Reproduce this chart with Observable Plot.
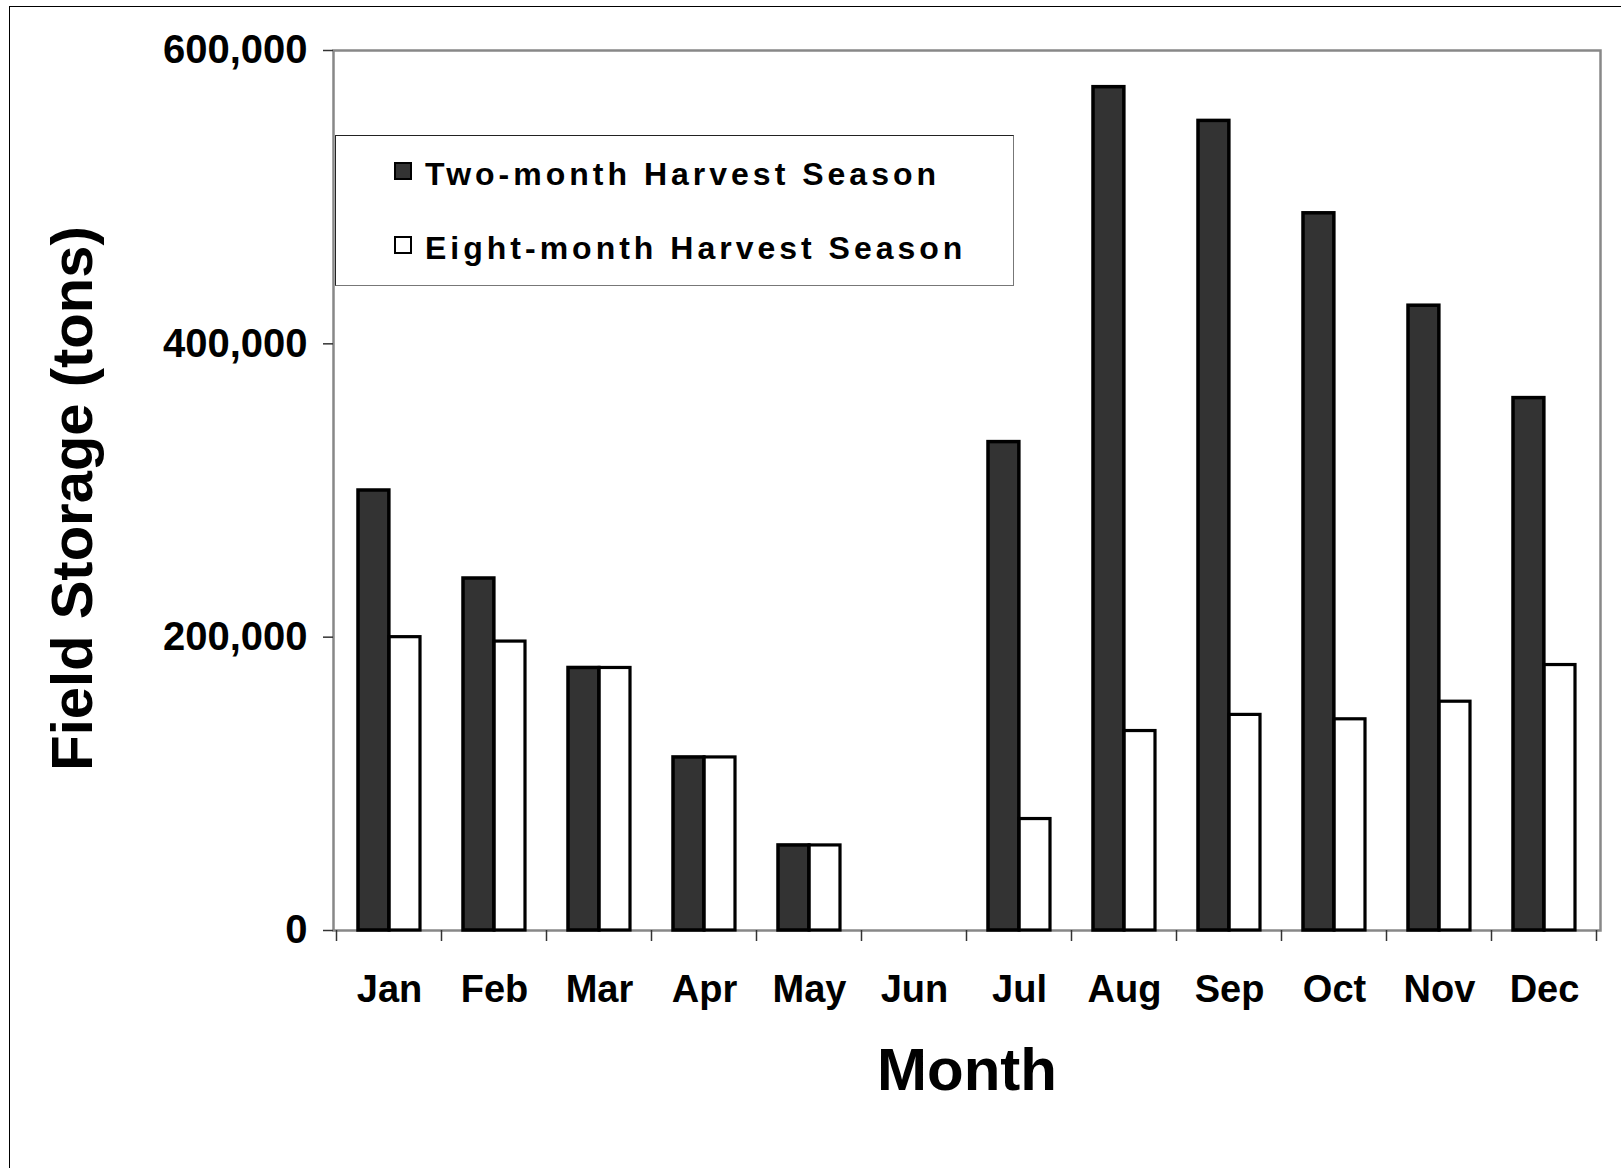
<!DOCTYPE html>
<html>
<head>
<meta charset="utf-8">
<script src="https://cdn.jsdelivr.net/npm/d3@7"></script>
<script src="https://cdn.jsdelivr.net/npm/@observablehq/plot@0.6"></script>
<style>
  html, body { margin: 0; padding: 0; background: #fff; overflow: hidden; }
  #wrap { position: relative; width: 1621px; height: 1168px; font-family: "Liberation Sans", Arial, sans-serif; }
  #border { position: absolute; left: 9px; top: 6px; width: 1700px; height: 1300px; border: 1.5px solid #000; pointer-events: none; }
  #legend { position: absolute; left: 335px; top: 135px; width: 679px; height: 151px; box-sizing: border-box;
            background: #fff; border: 1.5px solid #222; border-right-color: #777; border-bottom-color: #777; }
  .item { position: absolute; left: 0; }
  .sw { position: absolute; width: 14px; height: 14px; border: 2px solid #000; }
  .lab { position: absolute; white-space: nowrap; font-size: 32px; font-weight: bold; letter-spacing: 4px; line-height: 32px; color: #000; }
</style>
</head>
<body>
<div id="wrap"><div id="chart"></div><div id="legend"></div><div id="border"></div></div>
<script>
// ---- data ----
const months = ["Jan","Feb","Mar","Apr","May","Jun","Jul","Aug","Sep","Oct","Nov","Dec"];
const seriesNames = ["Two-month Harvest Season", "Eight-month Harvest Season"];
const twoMonth   = [300000, 240000, 179000, 118000, 58000, 0, 333000, 575000, 552000, 489000, 426000, 363000];
const eightMonth = [200000, 197000, 179000, 118000, 58000, 0, 76000, 136000, 147000, 144000, 156000, 181000];
const seriesColors = ["#333333", "#ffffff"];
const yTicks = [0, 200000, 400000, 600000];
const yLabel = "Field Storage (tons)";
const xLabel = "Month";

const rows = [];
months.forEach((m, i) => {
  rows.push({month: m, series: seriesNames[0], value: twoMonth[i]});
  rows.push({month: m, series: seriesNames[1], value: eightMonth[i]});
});

// ---- layout ----
const W = 1621, H = 1168, mL = 333, mR = 21, mT = 50, mB = 238;
const padInner = 0.41, padOuter = 0.205;
const bw = d3.scaleBand().domain(months).range([mL, W - mR]).paddingInner(padInner).paddingOuter(padOuter).bandwidth();

const plot = Plot.plot({
  width: W, height: H,
  marginLeft: mL, marginRight: mR, marginTop: mT, marginBottom: mB,
  style: {fontFamily: '"Liberation Sans", Arial, sans-serif', fontWeight: "bold", color: "#000", background: "transparent"},
  x: {domain: months, paddingInner: padInner, paddingOuter: padOuter, axis: null},
  y: {domain: [0, 600000], axis: null},
  color: {domain: seriesNames, range: seriesColors},
  marks: [
    Plot.frame({stroke: "#888", strokeWidth: 2.5}),
    Plot.barY(rows.filter(d => d.series === seriesNames[0] && d.value > 0),
      {x: "month", y: "value", fill: "series", stroke: "#000", strokeWidth: 3.5, insetRight: bw / 2}),
    Plot.barY(rows.filter(d => d.series === seriesNames[1] && d.value > 0),
      {x: "month", y: "value", fill: "series", stroke: "#000", strokeWidth: 3.2, insetLeft: bw / 2}),
    Plot.axisY({ticks: yTicks, tickFormat: d3.format(","), tickSize: 10, tickPadding: 16, fontSize: 40, label: null, stroke: "#333", strokeWidth: 1.5}),
    Plot.axisX({tickSize: 0, tickPadding: 45, fontSize: 38, label: null}),
    Plot.text([yLabel], {frameAnchor: "left", rotate: -90, dx: -260, dy: 8, fontSize: 58, fontWeight: "bold", textAnchor: "middle", lineAnchor: "middle", fill: "#000"}),
    Plot.text([xLabel], {frameAnchor: "bottom", dy: 140, fontSize: 60, fontWeight: "bold", textAnchor: "middle", lineAnchor: "middle", fill: "#000"})
  ]
});
document.getElementById("chart").appendChild(plot);

// boundary tick marks on the category axis, from the plot's own x scale
const xs = plot.scale("x"), ys = plot.scale("y");
const n = months.length;
const step = xs.step ?? (xs.range[1] - xs.range[0]) / (n - padInner + 2 * padOuter);
const band = xs.bandwidth;
const y0 = ys.apply(0);
const bounds = months.map(m => xs.apply(m) - (step - band) / 2);
bounds.push(xs.apply(months[n - 1]) + band + (step - band) / 2);
d3.select(plot).append("g").selectAll("line").data(bounds).join("line")
  .attr("x1", d => d).attr("x2", d => d).attr("y1", y0).attr("y2", y0 + 11)
  .attr("stroke", "#333").attr("stroke-width", 1.5);

// legend (inside plot area)
const legend = document.getElementById("legend");
seriesNames.forEach((s, i) => {
  const sw = document.createElement("div");
  sw.className = "sw";
  sw.style.left = "58px";
  sw.style.top = (26 + i * 74) + "px";
  sw.style.background = seriesColors[i];
  legend.appendChild(sw);
  const lab = document.createElement("div");
  lab.className = "lab";
  lab.style.left = "89px";
  lab.style.top = (22 + i * 74) + "px";
  lab.textContent = s;
  legend.appendChild(lab);
});
</script>
</body>
</html>
